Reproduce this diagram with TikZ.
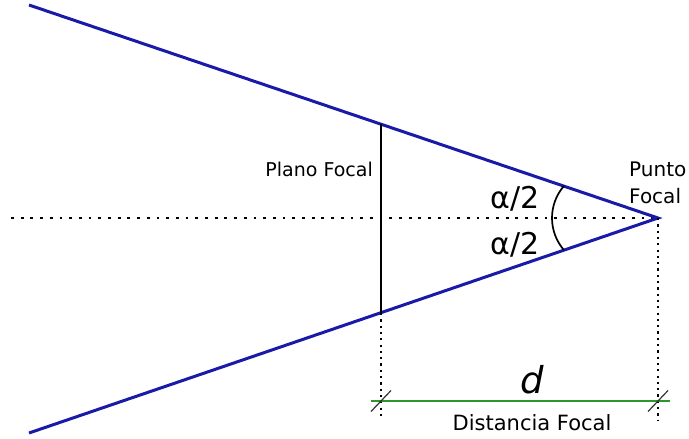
\documentclass[tikz,border=0pt]{standalone}
\usepackage{fontspec}
\setmainfont{DejaVu Sans}
\usetikzlibrary{calc}
\definecolor{rayblue}{RGB}{26,26,168}
\definecolor{distgreen}{RGB}{45,150,45}

\begin{document}
\begin{tikzpicture}[x=1pt,y=-1pt,
    ray/.style={rayblue, line width=3pt},
    axis/.style={line width=2.8pt, dash pattern=on 2.8pt off 6.9pt},
    guide/.style={line width=2.2pt, dash pattern=on 2.2pt off 4.1pt},
    tick/.style={black!80, line width=1.2pt},
    lbl/.style={inner sep=0pt, font=\fontsize{19}{22}\selectfont}]
        \useasboundingbox (0,0) rectangle (689,439);

        \coordinate (pf) at (658,218);
        \coordinate (ra) at (29,5);
        \coordinate (rb) at (29,433);
        \coordinate (ax) at (11,218);
        \coordinate (pt) at (381,124);
        \coordinate (pb) at (381,313);
        \coordinate (gp) at (381,420);
        \coordinate (gf) at (658,420);
        \coordinate (dl) at (371,401);
        \coordinate (dr) at (670,401);
        \coordinate (ac) at (601,218);

        % rays and axis
        \draw[axis] (ax) -- (pf);
        \draw[ray] (ra) -- (pf) -- (rb);
        \draw[line width=2.2pt] (pt) -- (pb);
        \draw[line width=1.7pt] (ac) ++(139:49) arc[start angle=139, end angle=221, radius=49];

        % focal distance
        \draw[guide] (pb) -- (gp);
        \draw[guide] (pf) -- (gf);
        \draw[distgreen, line width=2.2pt] (dl) -- (dr);
        \draw[tick] ($(381,401)+(-10,10.5)$) -- ($(381,401)+(10,-10.5)$);
        \draw[tick] ($(658,401)+(-10,10.5)$) -- ($(658,401)+(10,-10.5)$);

        \node[lbl, anchor=base east](pl) at (373,176){Plano Focal};
        \node[lbl, anchor=base west, align=left, font=\fontsize{20}{27}\selectfont](pu) at (629,203){Punto\\Focal};
        \node[lbl, anchor=base, font=\fontsize{30}{32}\selectfont](a1) at (515,208){α/2};
        \node[lbl, anchor=base, font=\fontsize{30}{32}\selectfont](a2) at (515,254){α/2};
        \node[lbl, anchor=base, font=\fontsize{37}{40}\selectfont\itshape](dd) at (532,393){d};
        \node[lbl, anchor=base, font=\fontsize{21}{24}\selectfont](df) at (532,430){Distancia Focal};

      \end{tikzpicture}
\end{document}
